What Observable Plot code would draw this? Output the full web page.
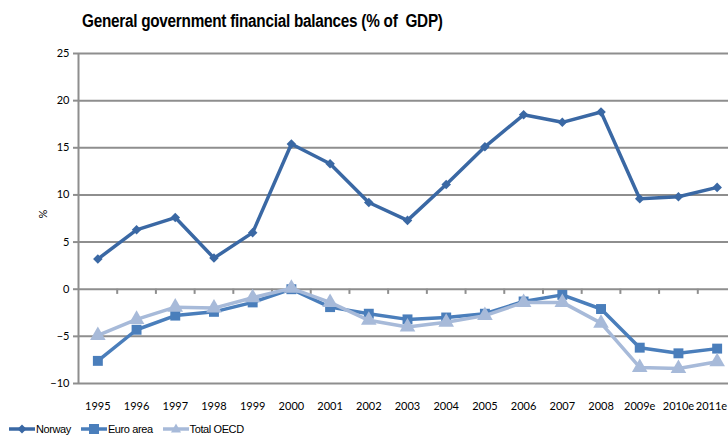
<!DOCTYPE html>
<html>
<head>
<meta charset="utf-8">
<script src="https://cdn.jsdelivr.net/npm/d3@7"></script>
<script src="https://cdn.jsdelivr.net/npm/@observablehq/plot@0.6"></script>
<style>
  html, body { margin: 0; padding: 0; background: #fff; overflow: hidden; }
  #wrap { position: relative; width: 728px; height: 436px; overflow: hidden; font-family: "Liberation Sans", Arial, sans-serif; }
  #title { position: absolute; left: 82px; top: 11px; font-weight: bold; font-size: 17.5px; letter-spacing: -0.3px; color: #000; white-space: nowrap; transform: scaleX(0.875); transform-origin: left top; }
  #chart { position: absolute; left: 0; top: 0; width: 736px; }
  #chart svg { max-width: none !important; }
  #legend { position: absolute; left: 8px; top: 422px; display: flex; gap: 9px; font-size: 11px; color: #000; letter-spacing: -0.4px; }
  .item { display: flex; align-items: center; }
  .item svg { display: block; }
</style>
</head>
<body>
<div id="wrap">
  <div id="chart"></div>
  <div id="title">General government financial balances (% of&nbsp; GDP)</div>
  <div id="legend"></div>
</div>
<script>
const years = ["1995","1996","1997","1998","1999","2000","2001","2002","2003","2004","2005","2006","2007","2008","2009e","2010e","2011e"];
const norway = [3.2, 6.3, 7.6, 3.3, 6.0, 15.4, 13.3, 9.2, 7.3, 11.1, 15.1, 18.5, 17.7, 18.8, 9.6, 9.8, 10.8];
const euroArea = [-7.6, -4.3, -2.8, -2.4, -1.4, 0.0, -1.9, -2.6, -3.2, -3.0, -2.6, -1.3, -0.6, -2.1, -6.2, -6.8, -6.3];
const totalOECD = [-4.9, -3.2, -1.9, -2.0, -0.9, 0.1, -1.4, -3.3, -4.0, -3.5, -2.8, -1.4, -1.4, -3.6, -8.3, -8.4, -7.7];
const yTicks = [-10, -5, 0, 5, 10, 15, 20, 25];
const seriesNames = ["Norway", "Euro area", "Total OECD"];
const seriesColors = ["#3a68a4", "#4a7ebb", "#a7bad9"];
const seriesSymbols = ["diamond2", "square", "triangle"];

const allSeries = [norway, euroArea, totalOECD];
const rows = [];
allSeries.forEach((vals, si) => vals.forEach((v, i) => rows.push({year: years[i], value: v, series: seriesNames[si]})));

const W = 736, L = 78;
const step = (W - L) / years.length;
const grid = "#8e8e8e";
const font = "Lato, 'Open Sans', sans-serif";

const marks = [
  Plot.ruleY(yTicks, {y: d => d, stroke: grid, strokeWidth: 2}),
  Plot.ruleX([years[0]], {x: d => d, dx: -step / 2, y1: -10, y2: 25, stroke: grid, strokeWidth: 2}),
  Plot.ruleX(years.slice(1), {x: d => d, dx: -step / 2, y1: 0, y2: -0.55, stroke: grid, strokeWidth: 2}),
  Plot.axisY(yTicks, {tickSize: 5, tickPadding: 4, stroke: grid, strokeWidth: 2, label: null, fontSize: 11, fontFamily: font}),
  Plot.text(["%"], {frameAnchor: "left", y: 7.5, text: d => d, rotate: -90, dx: -35, fontSize: 11, fontFamily: font, fill: "#000"}),
  Plot.text(years.slice(0, -1), {x: d => d, y: -10, text: d => d, dy: 23, fontSize: 11, fontFamily: font, fill: "#000"}),
  Plot.text(years.slice(-1), {x: d => d, y: -10, text: d => d, dy: 23, dx: 10, textAnchor: "end", fontSize: 11, fontFamily: font, fill: "#000"})
];
seriesNames.forEach((name, si) => {
  const data = rows.filter(r => r.series === name);
  marks.push(Plot.line(data, {x: "year", y: "value", stroke: seriesColors[si], strokeWidth: 3.5, curve: "linear"}));
  marks.push(Plot.dot(data, {x: "year", y: "value", fill: seriesColors[si], stroke: "none", symbol: seriesSymbols[si], r: si === 0 ? 4.3 : (si === 1 ? 5.6 : 5.8)}));
});

const chart = Plot.plot({
  width: W,
  height: 410,
  marginLeft: L,
  marginRight: 0,
  marginTop: 53,
  marginBottom: 27,
  style: {background: "transparent", color: "#000", fontFamily: font, maxWidth: "none"},
  x: {type: "point", domain: years, padding: 0.5, round: false, axis: null},
  y: {domain: [-10, 25], axis: null},
  marks
});
chart.style.overflow = "visible";
chart.style.maxWidth = "none";
document.getElementById("chart").appendChild(chart);

const legend = document.getElementById("legend");
const symPaths = {
  "diamond2": "M14,-4.5 L18.5,0 L14,4.5 L9.5,0 Z",
  "square": "M9,-5 L19,-5 L19,5 L9,5 Z",
  "triangle": "M14,-5.5 L19,3.5 L9,3.5 Z"
};
seriesNames.forEach((name, si) => {
  const item = document.createElement("div");
  item.className = "item";
  item.innerHTML = `<svg width="28" height="14" viewBox="0 -7 28 14"><line x1="1" x2="27" y1="0" y2="0" stroke="${seriesColors[si]}" stroke-width="3.5"/><path d="${symPaths[seriesSymbols[si]]}" fill="${seriesColors[si]}"/></svg><span>${name}</span>`;
  legend.appendChild(item);
});
</script>
</body>
</html>
